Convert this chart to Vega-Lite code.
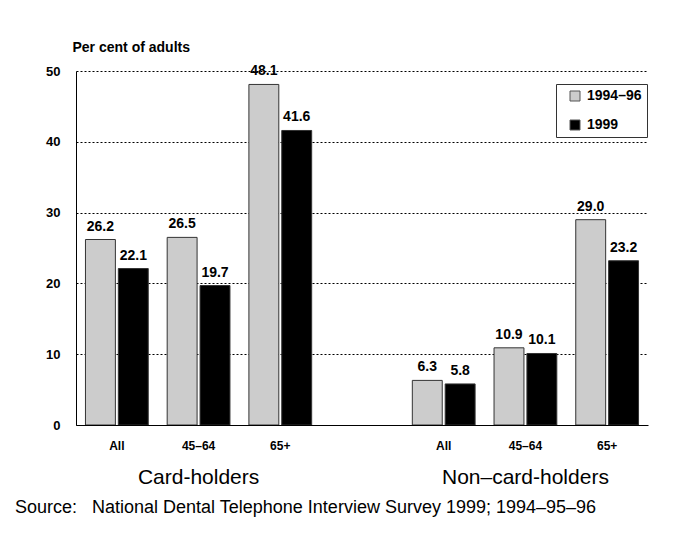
{
  "$schema": "https://vega.github.io/schema/vega-lite/v6.json",
  "autosize": {"type": "none"},
  "padding": {"left": 76, "top": 71, "right": 29, "bottom": 115},
  "width": 572,
  "height": 354,
  "background": "white",
  "title": {
    "text": "Source:\u00a0\u00a0\u00a0National Dental Telephone Interview Survey 1999; 1994–95–96",
    "orient": "bottom",
    "anchor": "start",
    "frame": "group",
    "dx": -61,
    "offset": 12,
    "font": "Liberation Sans",
    "fontSize": 18,
    "fontWeight": "normal",
    "color": "black"
  },
  "datasets": {
    "bars": [
      {"slot": "C|All", "year": "1994–96", "value": 26.2},
      {"slot": "C|All", "year": "1999", "value": 22.1},
      {"slot": "C|45–64", "year": "1994–96", "value": 26.5},
      {"slot": "C|45–64", "year": "1999", "value": 19.7},
      {"slot": "C|65+", "year": "1994–96", "value": 48.1},
      {"slot": "C|65+", "year": "1999", "value": 41.6},
      {"slot": "N|All", "year": "1994–96", "value": 6.3},
      {"slot": "N|All", "year": "1999", "value": 5.8},
      {"slot": "N|45–64", "year": "1994–96", "value": 10.9},
      {"slot": "N|45–64", "year": "1999", "value": 10.1},
      {"slot": "N|65+", "year": "1994–96", "value": 29.0},
      {"slot": "N|65+", "year": "1999", "value": 23.2}
    ],
    "groups": [
      {"group": "Card-holders"},
      {"group": "Non–card-holders"}
    ]
  },
  "layer": [
    {
      "data": {"name": "bars"},
      "encoding": {
        "x": {
          "field": "slot",
          "type": "nominal",
          "sort": null,
          "scale": {
            "domain": ["C|All", "C|45–64", "C|65+", "gap", "N|All", "N|45–64", "N|65+"],
            "paddingInner": 0,
            "paddingOuter": 0
          },
          "axis": {
            "title": null,
            "labelExpr": "datum.value == 'gap' ? '' : split(datum.value, '|')[1]",
            "labelAngle": 0,
            "ticks": false,
            "tickSize": 0,
            "labelPadding": 15,
            "labelFontSize": 12,
            "labelFontWeight": "bold",
            "domainColor": "black",
            "domainWidth": 1,
            "grid": false,
            "zindex": 1
          }
        },
        "xOffset": {
          "field": "year",
          "type": "nominal",
          "scale": {"domain": ["1994–96", "1999"], "paddingInner": 0.09, "paddingOuter": 0.288}
        },
        "y": {
          "field": "value",
          "type": "quantitative",
          "scale": {"domain": [0, 50], "nice": false},
          "axis": {
            "title": "Per cent of adults",
            "titleAngle": 0,
            "titleAlign": "left",
            "titleBaseline": "alphabetic",
            "titleX": -4,
            "titleY": -20,
            "titleFontSize": 14,
            "titleFontWeight": "bold",
            "values": [0, 10, 20, 30, 40, 50],
            "ticks": false,
            "tickSize": 0,
            "labelPadding": 16,
            "labelFontSize": 13,
            "labelFontWeight": "bold",
            "grid": true,
            "gridColor": "black",
            "gridDash": [2, 2],
            "gridWidth": 1,
            "domainColor": "black",
            "zindex": 0
          }
        }
      },
      "layer": [
        {
          "mark": {"type": "bar", "stroke": "#333333", "strokeWidth": 1},
          "encoding": {
            "color": {
              "field": "year",
              "type": "nominal",
              "scale": {"domain": ["1994–96", "1999"], "range": ["#cccccc", "#000000"]},
              "legend": {
                "title": null,
                "orient": "none",
                "legendX": 480,
                "legendY": 13,
                "strokeColor": "#333333",
                "fillColor": "white",
                "padding": 5,
                "symbolOffset": 7,
                "symbolType": "square",
                "symbolSize": 100,
                "symbolStrokeColor": "#555555",
                "symbolStrokeWidth": 1,
                "labelFontSize": 14,
                "labelFontWeight": "bold",
                "labelOffset": 5,
                "rowPadding": 15
              }
            }
          }
        },
        {
          "mark": {"type": "text", "baseline": "alphabetic", "dy": -9, "fontSize": 14, "fontWeight": "bold", "color": "black"},
          "encoding": {
            "text": {"field": "value", "type": "quantitative", "format": ".1f"}
          }
        }
      ]
    },
    {
      "data": {"name": "groups"},
      "mark": {"type": "rule", "opacity": 0},
      "encoding": {
        "x": {
          "field": "group",
          "type": "nominal",
          "scale": {"domain": ["Card-holders", "Non–card-holders"], "paddingInner": 0.25, "paddingOuter": 0},
          "axis": {
            "orient": "bottom",
            "title": null,
            "domain": false,
            "ticks": false,
            "tickSize": 0,
            "grid": false,
            "labelAngle": 0,
            "labelPadding": 41,
            "labelFontSize": 21,
            "labelFontWeight": "normal"
          }
        }
      }
    }
  ],
  "resolve": {"scale": {"x": "independent"}, "axis": {"x": "independent"}},
  "config": {
    "font": "Liberation Sans",
    "view": {"stroke": null},
    "axis": {"labelColor": "black", "titleColor": "black", "labelFont": "Liberation Sans", "titleFont": "Liberation Sans"},
    "legend": {"labelColor": "black", "labelFont": "Liberation Sans"}
  }
}
